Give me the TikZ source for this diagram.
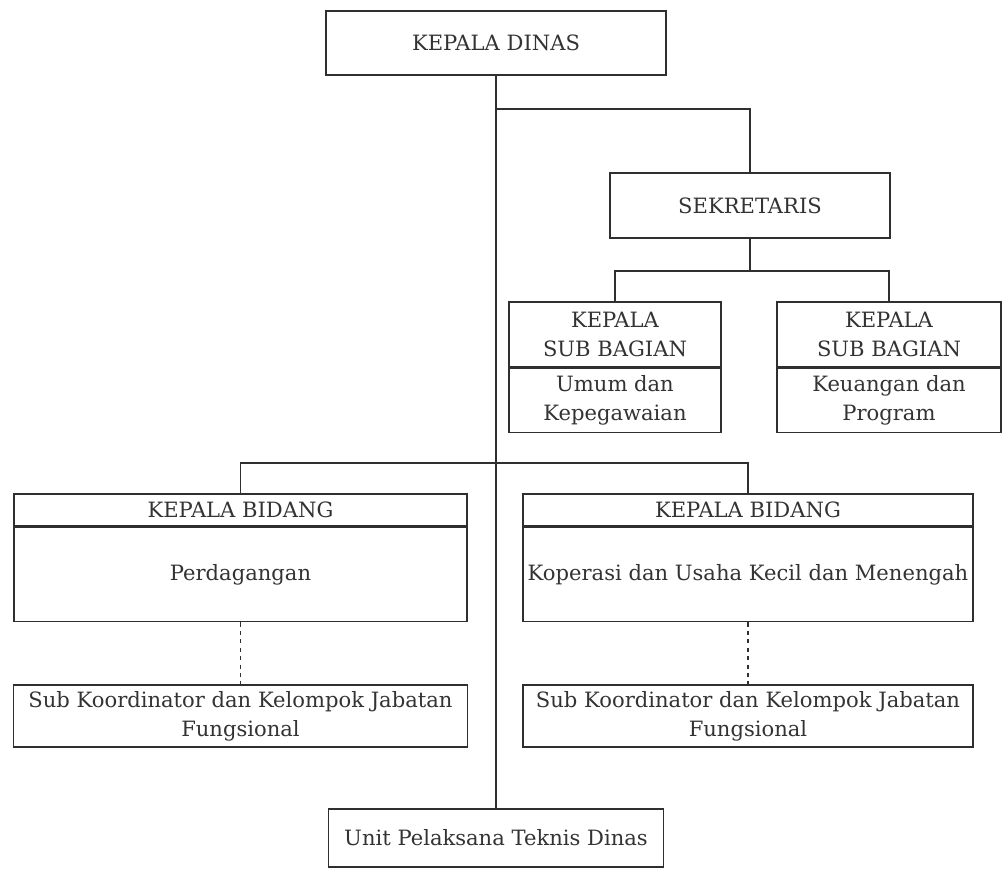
\documentclass[tikz,border=0pt]{standalone}
\usepackage{fontspec}
\setmainfont{DejaVu Serif}
\usepackage{tikz}
\usetikzlibrary{positioning}
\definecolor{linedark}{HTML}{2F2F2F}
\definecolor{textdark}{HTML}{333333}

\begin{document}
\begin{tikzpicture}[
    x=0.25mm, y=-0.25mm,
    every node/.style={font=\fontsize{15}{20.5}\selectfont, text=textdark},
    kotak/.style={draw=linedark, line width=1.1pt, fill=white, inner sep=0pt, align=center},
    garis/.style={draw=linedark, line width=1.1pt}
]
    \useasboundingbox (0,0) rectangle (1004,870);

    % Kepala Dinas and main line
    \node[kotak, minimum width=85mm, minimum height=16mm] (kadis) at (496,43) {KEPALA DINAS};
    \node[kotak, minimum width=83.75mm, minimum height=14.5mm] (uptd) at (496,838) {Unit Pelaksana Teknis Dinas};
    \draw[garis] (kadis.south) -- (uptd.north);

    % Sekretariat
    \node[kotak, minimum width=70mm, minimum height=16.25mm] (sekre) at (750,205.5) {SEKRETARIS};
    \coordinate (cab1) at (496,109);
    \draw[garis] (cab1) -| (sekre.north);

    % Sub bagian
    \node[kotak, minimum width=53mm, minimum height=16.25mm] (subum) at (615,334.5) {KEPALA\\SUB BAGIAN};
    \node[kotak, minimum width=53mm, minimum height=16mm, below=0pt of subum] (subumb) {Umum dan\\Kepegawaian};
    \node[kotak, minimum width=56mm, minimum height=16.25mm] (subku) at (889,334.5) {KEPALA\\SUB BAGIAN};
    \node[kotak, minimum width=56mm, minimum height=16mm, below=0pt of subku] (subkub) {Keuangan dan\\Program};
    \coordinate (cab2) at (750,271);
    \draw[garis] (sekre.south) -- (cab2);
    \draw[garis] (subum.north) |- (cab2) -| (subku.north);

    % Bidang
    \node[kotak, minimum width=113.25mm, minimum height=8mm] (bidda) at (240.5,510) {KEPALA BIDANG};
    \node[kotak, minimum width=113.25mm, minimum height=23.5mm, below=0pt of bidda] (biddab) {Perdagangan};
    \node[kotak, minimum width=112.5mm, minimum height=8mm] (bidkop) at (748,510) {KEPALA BIDANG};
    \node[kotak, minimum width=112.5mm, minimum height=23.5mm, below=0pt of bidkop] (bidkopb) {Koperasi dan Usaha Kecil dan Menengah};
    \coordinate (cab3) at (496,463);
    \draw[garis] (bidda.north) |- (cab3) -| (bidkop.north);

    % Sub koordinator (dashed)
    \node[kotak, minimum width=113.5mm, minimum height=15.5mm] (skda) at (240.5,716) {Sub Koordinator dan Kelompok Jabatan\\Fungsional};
    \node[kotak, minimum width=112.5mm, minimum height=15.5mm] (skkop) at (748,716) {Sub Koordinator dan Kelompok Jabatan\\Fungsional};
    \draw[garis, dashed] (biddab.south) -- (skda.north);
    \draw[garis, dashed] (bidkopb.south) -- (skkop.north);
\end{tikzpicture}
\end{document}
